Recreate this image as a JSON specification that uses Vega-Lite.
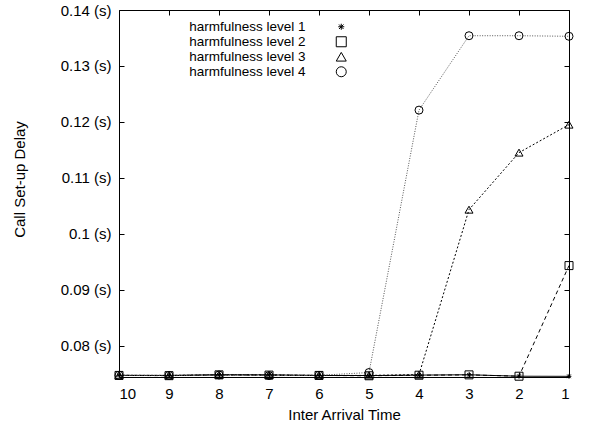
{
  "$schema": "https://vega.github.io/schema/vega-lite/v6.json",
  "width": 450,
  "height": 367,
  "autosize": {"type": "none"},
  "padding": {"left": 119, "top": 10, "right": 32, "bottom": 52},
  "background": "white",
  "config": {
    "font": "Liberation Sans",
    "view": {"stroke": "black", "strokeWidth": 1},
    "axis": {"grid": false, "domain": false, "labelColor": "black", "titleColor": "black", "tickColor": "black", "tickWidth": 1, "labelFontSize": 15, "titleFontSize": 15, "titleFontWeight": "normal", "labelFont": "Liberation Sans", "titleFont": "Liberation Sans"}
  },
  "data": {"values": [
    {"x": 10, "level": "harmfulness level 1", "y": 0.07468},
    {"x": 9, "level": "harmfulness level 1", "y": 0.07466},
    {"x": 8, "level": "harmfulness level 1", "y": 0.07478},
    {"x": 7, "level": "harmfulness level 1", "y": 0.07476},
    {"x": 6, "level": "harmfulness level 1", "y": 0.07466},
    {"x": 5, "level": "harmfulness level 1", "y": 0.07464},
    {"x": 4, "level": "harmfulness level 1", "y": 0.07472},
    {"x": 3, "level": "harmfulness level 1", "y": 0.07478},
    {"x": 2, "level": "harmfulness level 1", "y": 0.07452},
    {"x": 1, "level": "harmfulness level 1", "y": 0.07450},
    {"x": 10, "level": "harmfulness level 2", "y": 0.07466},
    {"x": 9, "level": "harmfulness level 2", "y": 0.07462},
    {"x": 8, "level": "harmfulness level 2", "y": 0.07476},
    {"x": 7, "level": "harmfulness level 2", "y": 0.07472},
    {"x": 6, "level": "harmfulness level 2", "y": 0.07466},
    {"x": 5, "level": "harmfulness level 2", "y": 0.07460},
    {"x": 4, "level": "harmfulness level 2", "y": 0.07470},
    {"x": 3, "level": "harmfulness level 2", "y": 0.07476},
    {"x": 2, "level": "harmfulness level 2", "y": 0.07452},
    {"x": 1, "level": "harmfulness level 2", "y": 0.0943},
    {"x": 10, "level": "harmfulness level 3", "y": 0.07468},
    {"x": 9, "level": "harmfulness level 3", "y": 0.07466},
    {"x": 8, "level": "harmfulness level 3", "y": 0.07478},
    {"x": 7, "level": "harmfulness level 3", "y": 0.07474},
    {"x": 6, "level": "harmfulness level 3", "y": 0.07466},
    {"x": 5, "level": "harmfulness level 3", "y": 0.07466},
    {"x": 4, "level": "harmfulness level 3", "y": 0.07480},
    {"x": 3, "level": "harmfulness level 3", "y": 0.1043},
    {"x": 2, "level": "harmfulness level 3", "y": 0.1145},
    {"x": 1, "level": "harmfulness level 3", "y": 0.1195},
    {"x": 10, "level": "harmfulness level 4", "y": 0.07468},
    {"x": 9, "level": "harmfulness level 4", "y": 0.07466},
    {"x": 8, "level": "harmfulness level 4", "y": 0.07474},
    {"x": 7, "level": "harmfulness level 4", "y": 0.07462},
    {"x": 6, "level": "harmfulness level 4", "y": 0.07468},
    {"x": 5, "level": "harmfulness level 4", "y": 0.07518},
    {"x": 4, "level": "harmfulness level 4", "y": 0.1221},
    {"x": 3, "level": "harmfulness level 4", "y": 0.1354},
    {"x": 2, "level": "harmfulness level 4", "y": 0.1354},
    {"x": 1, "level": "harmfulness level 4", "y": 0.1353}
  ]},
  "layer": [
    {
      "mark": {"type": "line", "strokeWidth": 1, "clip": true},
      "encoding": {
        "x": {"field": "x", "type": "quantitative", "scale": {"domain": [1, 10], "reverse": true, "nice": false, "zero": false},
          "axis": {"orient": "bottom", "values": [1,2,3,4,5,6,7,8,9,10], "offset": -5, "tickSize": 5, "labelPadding": 9, "title": "Inter Arrival Time", "titlePadding": 6}},
        "y": {"field": "y", "type": "quantitative", "scale": {"domain": [0.07438, 0.14], "nice": false, "zero": false},
          "axis": {"orient": "left", "values": [0.08,0.09,0.1,0.11,0.12,0.13,0.14], "offset": -5, "tickSize": 5, "labelPadding": 8, "labelExpr": "toString(round(datum.value*100)/100) + ' (s)'", "title": "Call Set-up Delay", "titlePadding": 33, "titleY": 169}},
        "detail": {"field": "level"},
        "stroke": {"field": "level", "type": "nominal", "scale": {"range": ["black", "black", "black", "#555555"]}, "legend": null},
        "strokeDash": {"field": "level", "type": "nominal", "scale": {"range": [[1, 0], [4, 3], [2, 2], [1, 1.5]]}, "legend": null}
      }
    },
    {
      "mark": {"type": "point", "filled": false, "strokeWidth": 1, "size": 64, "opacity": 1, "clip": false},
      "encoding": {
        "x": {"field": "x", "type": "quantitative",
          "axis": {"orient": "top", "values": [1,2,3,4,5,6,7,8,9,10], "offset": -5, "tickSize": 5, "labels": false, "title": null}},
        "y": {"field": "y", "type": "quantitative",
          "axis": {"orient": "right", "values": [0.08,0.09,0.1,0.11,0.12,0.13,0.14], "offset": -5, "tickSize": 5, "labels": false, "title": null}},
        "shape": {"field": "level", "type": "nominal",
          "scale": {"range": ["M-0.6,0L0.6,0M0,-0.6L0,0.6M-0.45,-0.45L0.45,0.45M-0.45,0.45L0.45,-0.45", "square", "triangle-up", "circle"]},
          "legend": null},
        "color": {"field": "level", "type": "nominal",
          "scale": {"range": ["black", "black", "black", "black"]},
          "legend": {
            "orient": "none", "legendX": 193.5, "legendY": 10, "title": null,
            "labelAlign": "right", "labelOffset": -42.5, "labelFontSize": 13.5, "labelFont": "Liberation Sans", "labelColor": "black",
            "symbolSize": 100, "symbolOffset": 22, "rowPadding": 0, "padding": 0,
            "symbolStrokeWidth": 1, "symbolFillColor": "transparent"
          }
        }
      }
    }
  ],
  "resolve": {"axis": {"x": "independent", "y": "independent"}}
}
